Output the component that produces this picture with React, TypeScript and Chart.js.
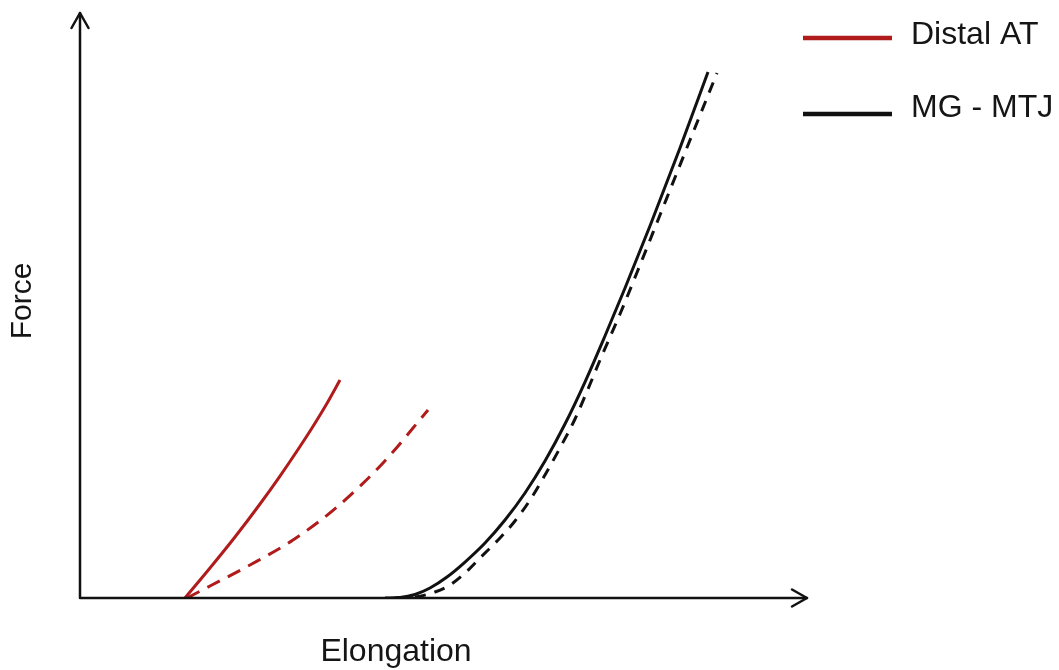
import React, { useEffect, useRef } from "react";
import { Chart, registerables } from "chart.js";

Chart.register(...registerables);

// Force–elongation curves (arbitrary units, both axes run 0–100)
const distalSolidX = [14.44, 17.88, 21.32, 24.76, 27.51, 29.85, 31.91, 33.84, 35.76];
const distalSolidY = [0, 5.13, 10.43, 16.07, 20.85, 25.13, 29.06, 32.99, 37.26];

const distalDashX = [14.72, 17.88, 23.38, 29.3, 35.35, 41.68, 47.87];
const distalDashY = [0, 2.05, 5.64, 9.91, 15.56, 23.08, 32.14];

const mtjSolidX = [41.95, 44.02, 46.08, 48.14, 50.48, 52.96, 55.71, 58.46, 61.21, 63.96, 66.71, 69.46, 72.21, 74.97, 78.4, 82.53, 86.38];
const mtjSolidY = [0, 0.09, 0.6, 1.71, 3.59, 6.15, 9.4, 13.33, 17.95, 23.42, 29.74, 36.92, 44.79, 52.99, 63.59, 76.92, 89.91];

const mtjDashX = [43.33, 46.08, 48.83, 50.89, 52.96, 55.02, 57.77, 59.83, 61.9, 63.96, 66.02, 68.09, 69.88, 71.53, 74.28, 77.03, 79.78, 83.91, 87.62];
const mtjDashY = [0, 0.17, 1.03, 2.22, 4.27, 6.84, 10.26, 13.16, 16.75, 21.03, 25.64, 30.6, 35.73, 40.68, 48.55, 56.92, 65.47, 78.29, 89.74];

const legendLabels = ["Distal AT", "MG - MTJ"];
const xTitle = "Elongation";
const yTitle = "Force";

const RED = "#B01C1C";
const BLACK = "#111111";
const TEXT = "#151515";
const FONT = '"Liberation Sans", Arial, sans-serif';

const toPoints = (xs: number[], ys: number[]) => xs.map((x, i) => ({ x, y: ys[i] }));

// Draws the arrowed axes, axis titles and the legend on top of the plot.
const decorations = {
  id: "decorations",
  afterDraw(chart: Chart) {
    const ctx = chart.ctx;
    const { left, right, top, bottom } = chart.chartArea;
    ctx.save();
    ctx.strokeStyle = BLACK;
    ctx.lineWidth = 2.5;
    ctx.lineCap = "round";
    ctx.lineJoin = "round";

    // axes
    ctx.beginPath();
    ctx.moveTo(left, top);
    ctx.lineTo(left, bottom);
    ctx.lineTo(right, bottom);
    ctx.stroke();

    // arrow heads
    ctx.beginPath();
    ctx.moveTo(left - 8.5, top + 15);
    ctx.lineTo(left, top);
    ctx.lineTo(left + 8.5, top + 15);
    ctx.moveTo(right - 15, bottom - 8.5);
    ctx.lineTo(right, bottom);
    ctx.lineTo(right - 15, bottom + 8.5);
    ctx.stroke();

    // axis titles
    ctx.fillStyle = TEXT;
    ctx.textAlign = "center";
    ctx.textBaseline = "middle";
    ctx.font = `32px ${FONT}`;
    ctx.fillText(xTitle, 396, 652);
    ctx.save();
    ctx.translate(23, 301);
    ctx.rotate(-Math.PI / 2);
    ctx.font = `30px ${FONT}`;
    ctx.fillText(yTitle, 0, 0);
    ctx.restore();

    // legend
    const items = [
      { label: legendLabels[0], color: RED, lineY: 38, textY: 35 },
      { label: legendLabels[1], color: BLACK, lineY: 114, textY: 108 },
    ];
    ctx.lineCap = "butt";
    ctx.lineWidth = 4.5;
    ctx.textAlign = "left";
    ctx.font = `32px ${FONT}`;
    items.forEach((it) => {
      ctx.strokeStyle = it.color;
      ctx.beginPath();
      ctx.moveTo(803, it.lineY);
      ctx.lineTo(892, it.lineY);
      ctx.stroke();
      ctx.fillStyle = TEXT;
      ctx.fillText(it.label, 911, it.textY);
    });
    ctx.restore();
  },
};

export default function App() {
  const canvasRef = useRef<HTMLCanvasElement | null>(null);

  useEffect(() => {
    document.body.style.margin = "0";
    document.body.style.overflow = "hidden";
    const canvas = canvasRef.current;
    if (!canvas) return;

    const common = {
      pointRadius: 0,
      fill: false,
      cubicInterpolationMode: "monotone" as const,
    };

    const chart = new Chart(canvas, {
      type: "line",
      data: {
        datasets: [
          { ...common, label: "Distal AT", data: toPoints(distalSolidX, distalSolidY), borderColor: RED, borderWidth: 3 },
          { ...common, label: "Distal AT (dashed)", data: toPoints(distalDashX, distalDashY), borderColor: RED, borderWidth: 3, borderDash: [14, 9] },
          { ...common, label: "MG - MTJ", data: toPoints(mtjSolidX, mtjSolidY), borderColor: BLACK, borderWidth: 3 },
          { ...common, label: "MG - MTJ (dashed)", data: toPoints(mtjDashX, mtjDashY), borderColor: BLACK, borderWidth: 3, borderDash: [11, 9] },
        ],
      },
      options: {
        responsive: false,
        animation: false,
        layout: { padding: { left: 80, right: 1059 - 807, top: 13, bottom: 670 - 598 } },
        scales: {
          x: { type: "linear", min: 0, max: 100, display: false },
          y: { type: "linear", min: 0, max: 100, display: false },
        },
        plugins: {
          legend: { display: false },
          tooltip: { enabled: false },
        },
      },
      plugins: [decorations],
    });

    return () => chart.destroy();
  }, []);

  return <canvas ref={canvasRef} width={1059} height={670} style={{ display: "block" }} />;
}
